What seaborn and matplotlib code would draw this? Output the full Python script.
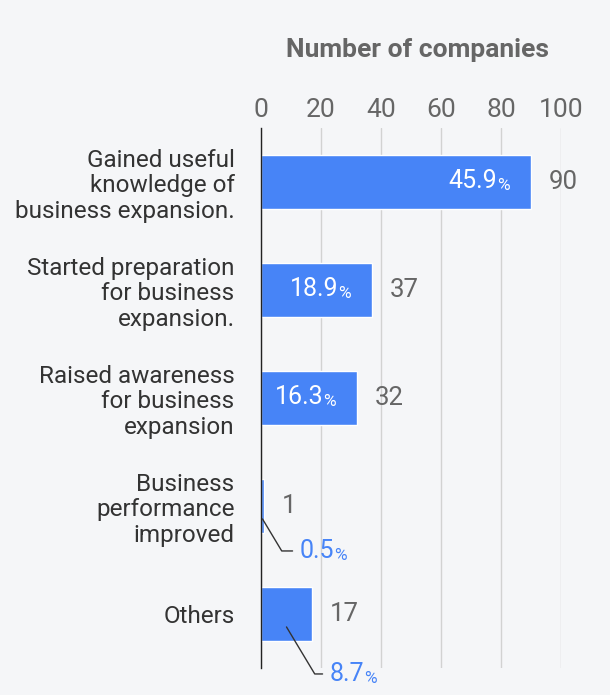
import matplotlib
matplotlib.use("Agg")
import matplotlib.pyplot as plt
import seaborn as sns
import pandas as pd

# ---- data ----
categories = [
    "Gained useful\nknowledge of\nbusiness expansion.",
    "Started preparation\nfor business\nexpansion.",
    "Raised awareness\nfor business\nexpansion",
    "Business\nperformance\nimproved",
    "Others",
]
counts = [90, 37, 32, 1, 17]
percents = ["45.9", "18.9", "16.3", "0.5", "8.7"]
x_ticks = [0, 20, 40, 60, 80, 100]
title = "Number of companies"

# ---- style ----
BG = "#f5f6f8"
BLUE = "#4784f7"
GRAY = "#666666"
DARK = "#333333"

sns.set_theme(style="white")
plt.rcParams["font.family"] = ["Roboto", "DejaVu Sans"]

fig = plt.figure(figsize=(6.1, 6.95), dpi=100, facecolor=BG)
ax = fig.add_axes([261 / 610, 27 / 695, 300 / 610, 540 / 695])
ax.set_facecolor(BG)

df = pd.DataFrame({"category": categories, "count": counts})
sns.barplot(data=df, x="count", y="category", color=BLUE, saturation=1,
            width=0.5, ax=ax)

ax.set_xlim(0, 100)
ax.set_ylim(4.5, -0.5)
ax.set_xticks(x_ticks)
ax.set_xlabel("")
ax.set_ylabel("")
ax.xaxis.grid(True, color="#d2d2d2", lw=1)
ax.yaxis.grid(False)
ax.set_axisbelow(True)
for s in ["top", "right", "bottom"]:
    ax.spines[s].set_visible(False)
ax.spines["left"].set_color("#222222")
ax.spines["left"].set_linewidth(1)

ax.tick_params(axis="x", top=True, bottom=False, labeltop=True,
               labelbottom=False, length=0, pad=4.5, labelsize=19,
               labelcolor=GRAY)
ax.tick_params(axis="y", left=False, length=0, pad=19, labelsize=17.5,
               labelcolor=DARK)
for lab in ax.get_yticklabels():
    lab.set_linespacing(1.15)

fig.text(418 / 610, 1 - 50 / 695, title, ha="center", va="center",
         fontsize=19, fontweight="bold", color=GRAY)

callout_offsets = {3: (37, -32), 4: (43, -47)}

for i, (c, p) in enumerate(zip(counts, percents)):
    # count label right of bar
    ax.annotate(str(c), xy=(c, i), xytext=(18, 0), textcoords="offset pixels",
                ha="left", va="center", fontsize=18.5, color=GRAY)
    if i in callout_offsets:
        dx, dy = callout_offsets[i]
        xy = (c / 2, i + 0.12)
        num = ax.annotate(p, xy=xy, xytext=(dx, dy), textcoords="offset pixels",
                          ha="left", va="center", fontsize=18, color=BLUE)
        ax.annotate("%", xy=(1, 0), xycoords=num, ha="left", va="bottom",
                    fontsize=12.5, color=BLUE)
        ax.annotate("", xy=xy, xytext=(0, 0.5), textcoords=num,
                    arrowprops=dict(arrowstyle="-", color=DARK, lw=1,
                                    shrinkA=5, shrinkB=0,
                                    connectionstyle="angle,angleA=0,angleB=-59,rad=0"))
    else:
        pct = ax.annotate("%", xy=(c, i), xytext=(-21, -8),
                          textcoords="offset pixels", ha="right",
                          va="baseline", fontsize=12.5, color="white")
        ax.annotate(p, xy=(0, 0), xycoords=pct, ha="right", va="bottom",
                    fontsize=18, color="white")

fig.savefig("out.png", dpi=100, facecolor=BG)
